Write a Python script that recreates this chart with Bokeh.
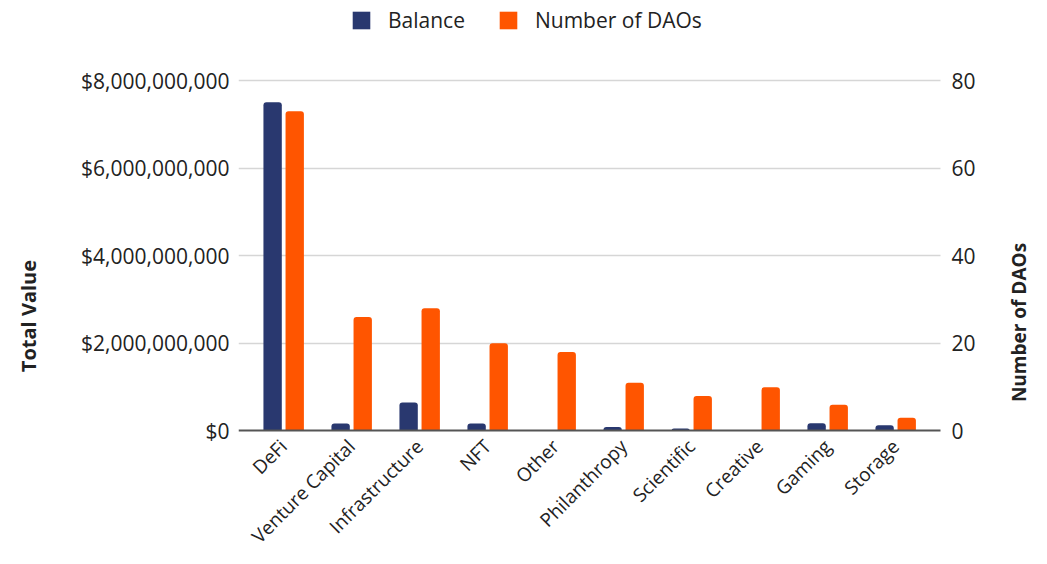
from math import pi
from bokeh.plotting import figure
from bokeh.models import (ColumnDataSource, Range1d, LinearAxis, FixedTicker,
                          NumeralTickFormatter, Legend, LegendItem, Label, Grid)
from bokeh.transform import dodge
from bokeh.embed import file_html
from bokeh.resources import INLINE

categories = ["DeFi", "Venture Capital", "Infrastructure", "NFT", "Other",
              "Philanthropy", "Scientific", "Creative", "Gaming", "Storage"]
balance = [7.51e9, 0.17e9, 0.65e9, 0.17e9, 0.0, 0.09e9, 0.055e9, 0.02e9, 0.175e9, 0.13e9]
num_daos = [73, 26, 28, 20, 18, 11, 8, 10, 6, 3]
left_ticks = [0, 2e9, 4e9, 6e9, 8e9]
right_ticks = [0, 20, 40, 60, 80]

FONT = "Open Sans"
NAVY = "#29386f"
ORANGE = "#ff5500"
TXT = "#222222"
NB = "\u00a0"

idx = list(range(len(categories)))

# layout constants (pixels): plot area 238..940 wide, 80..430 tall; canvas 1031 x 548
PX_PER_CAT = 68.0
first_center = 283 - 238
x_start = -first_center / PX_PER_CAT
x_plot_end = (940 - 238 - first_center) / PX_PER_CAT
x_end = (1031 - 238 - first_center) / PX_PER_CAT
LEFT_MAX = 8e9
RIGHT_MAX = 80
top_frac = 80.2 / 350.2
bottom_frac = 117.6 / 350.2

src = ColumnDataSource(dict(idx=idx, cat=categories, balance=balance, daos=num_daos))

p = figure(x_range=Range1d(x_start, x_end),
           y_range=Range1d(-bottom_frac * LEFT_MAX, (1 + top_frac) * LEFT_MAX),
           frame_width=1031 - 238, frame_height=548,
           output_backend="svg", toolbar_location=None,
           min_border_left=238, min_border_right=0, min_border_top=0, min_border_bottom=0)
p.outline_line_color = None
p.extra_y_ranges = {"dao": Range1d(-bottom_frac * RIGHT_MAX, (1 + top_frac) * RIGHT_MAX)}

r1 = p.vbar(x=dodge("idx", -0.16), top="balance", bottom=0, width=0.27,
            source=src, fill_color=NAVY, line_color=None, border_radius=(3, 3, 0, 0))
r2 = p.vbar(x=dodge("idx", 0.165), top="daos", bottom=0, width=0.27,
            source=src, fill_color=ORANGE, line_color=None, y_range_name="dao",
            border_radius=(3, 3, 0, 0))

# left axis
ya = p.yaxis[0]
ya.ticker = FixedTicker(ticks=left_ticks)
ya.formatter = NumeralTickFormatter(format="$0,0")
ya.axis_line_color = None
ya.major_tick_line_color = None
ya.minor_tick_line_color = None
ya.major_label_standoff = 3
ya.major_label_text_font = FONT
ya.major_label_text_font_size = "21px"
ya.major_label_text_color = TXT
ya.axis_label = "Total Value" + NB * 16
ya.axis_label_standoff = 36
ya.axis_label_text_font = FONT
ya.axis_label_text_font_size = "20px"
ya.axis_label_text_font_style = "bold"
ya.axis_label_text_color = TXT

# right axis, fixed at the right edge of the bar area
ra = LinearAxis(y_range_name="dao", ticker=FixedTicker(ticks=right_ticks),
                fixed_location=x_plot_end)
ra.axis_line_color = None
ra.major_tick_line_color = None
ra.minor_tick_line_color = None
ra.major_label_standoff = 5
ra.major_label_text_font = FONT
ra.major_label_text_font_size = "21px"
ra.major_label_text_color = TXT
p.add_layout(ra, "right")

# category axis sitting on the zero line
xa = p.xaxis[0]
xa.fixed_location = 0
xa.bounds = (x_start, x_plot_end)
xa.ticker = FixedTicker(ticks=idx)
xa.major_label_overrides = {i: c for i, c in zip(idx, categories)}
xa.axis_line_color = "#555555"
xa.axis_line_width = 2
xa.major_tick_line_color = None
xa.minor_tick_line_color = None
xa.major_label_orientation = pi / 4
xa.major_label_standoff = 6
xa.major_label_text_font = FONT
xa.major_label_text_font_size = "19px"
xa.major_label_text_color = TXT

p.xgrid.grid_line_color = None
yg = p.ygrid[0]
yg.ticker = FixedTicker(ticks=left_ticks[1:])
yg.grid_line_color = "#d6d6d6"
yg.grid_line_width = 1.5
if "cross_bounds" in Grid.properties():
    yg.cross_bounds = (x_start, x_plot_end)

legend = Legend(items=[LegendItem(label="Balance", renderers=[r1]),
                       LegendItem(label="Number of DAOs", renderers=[r2])],
                orientation="horizontal", location=(112, 514))
legend.glyph_width = 22
legend.glyph_height = 22
legend.label_standoff = 16
legend.spacing = 32
legend.padding = 0
legend.margin = 0
legend.border_line_color = None
legend.background_fill_alpha = 0
legend.label_text_font = FONT
legend.label_text_font_size = "21px"
legend.label_text_color = TXT
p.add_layout(legend, "center")

rt = Label(x=780, y=226, x_units="screen", y_units="screen", text="Number of DAOs",
           angle=pi / 2, text_align="center", text_baseline="middle",
           text_font=FONT, text_font_size="19px", text_font_style="bold", text_color=TXT)
p.add_layout(rt)

open("out.html", "w").write(file_html(p, INLINE))
